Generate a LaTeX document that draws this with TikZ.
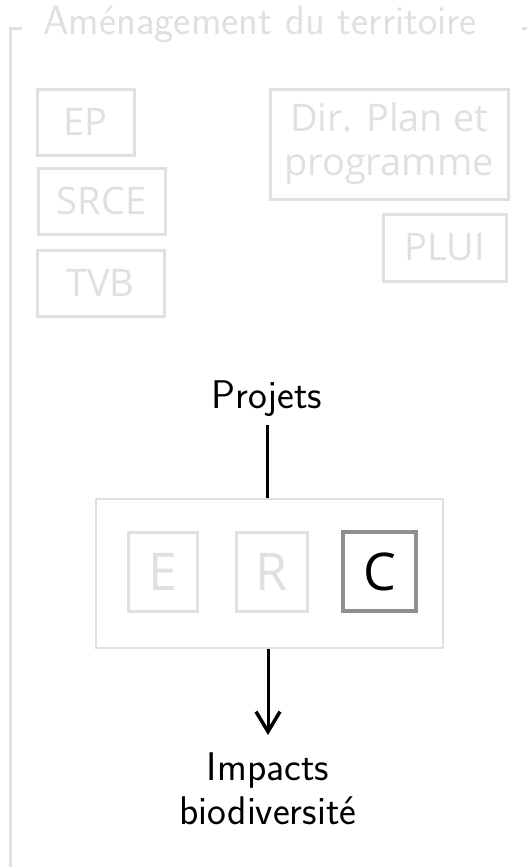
\documentclass[tikz,border=0pt]{standalone}
\usepackage{fontspec}
\newfontfamily\boxfont{Open Sans}
\usetikzlibrary{arrows.meta}
\definecolor{pale}{HTML}{E0E0E0}
\definecolor{mid}{HTML}{8F8F8F}
\begin{document}
\begin{tikzpicture}[x=1pt,y=-1pt,
    tool/.style={draw=pale,line width=3pt,text=pale,font=\boxfont\fontsize{38}{44}\selectfont,
      minimum height=66pt,inner sep=0pt,align=center},
    erc/.style={draw=pale,line width=3pt,text=pale,font=\boxfont\fontsize{52}{60}\selectfont,
      minimum width=70pt,minimum height=79pt,inner sep=0pt},
    label/.style={font=\sffamily\fontsize{40}{44}\selectfont,align=center,inner sep=0pt}]
        \useasboundingbox (0,0) rectangle (527,867);
        % cadre
        \draw[pale,line width=3pt] (22,29) -- (10,29) -- (10,870);
        \draw[pale,line width=3pt] (522,29) -- (530,29);
        \node[label,text=pale,font=\sffamily\fontsize{41}{44}\selectfont] (TITLE) at (260,24) {Aménagement du territoire};
        \begin{scope}
          \node[tool,minimum width=97pt] (EP) at (85.5,122) {EP};
          \node[tool,minimum width=127pt] (SRCE) at (101.5,201) {SRCE};
          \node[tool,minimum width=127pt] (TVB) at (100.5,283) {TVB};
          \node[tool,minimum width=238pt,minimum height=110pt] (DIR) at (389,144) {Dir. Plan et\\programme};
          \node[tool,minimum width=123pt,minimum height=67pt] (PLUI) at (444.5,247.5) {PLUI};
        \end{scope}
        \node[label] (PROJ) at (267,399) {Projets};
        \node[draw=pale,line width=2pt,minimum width=347pt,minimum height=149pt,inner sep=0pt] (SEQ) at (269.5,573.5) {};
        \node[erc,minimum width=69pt] (E) at (162.5,571.5) {E};
        \node[erc,minimum width=71pt] (R) at (271.5,571.5) {R};
        \node[erc,draw=mid,line width=3.5pt,text=black,minimum width=73pt] (C) at (379.5,571.5) {C};
        \node[label] (IMP) at (268,789) {Impacts\\biodiversité};
        \coordinate (TIP) at (268,735);
        \draw[line width=3pt] (PROJ.south |- 0,425) -- (PROJ.south |- SEQ.north);
        \draw[line width=3pt,-{Straight Barb[length=20pt,width=24pt,line width=3.5pt]}] (SEQ.south -| TIP) -- (TIP);
      \end{tikzpicture}
\end{document}
